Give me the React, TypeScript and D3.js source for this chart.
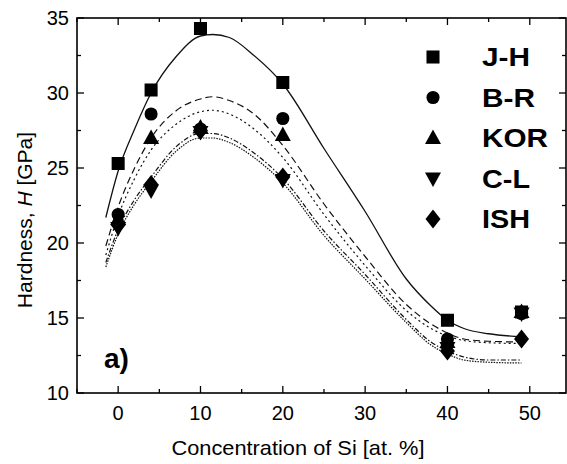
import React from "react";
import * as d3 from "d3";

const W = 567;
const H = 464;

const seriesNames = ["J-H", "B-R", "KOR", "C-L", "ISH"];
const dataX = [0, 4, 10, 20, 40, 49];
const jhH = [25.3, 30.2, 34.3, 30.7, 14.85, 15.4];
const brH = [21.9, 28.6, 27.6, 28.3, 13.6, 15.3];
const korH = [21.6, 27.0, 27.7, 27.2, 13.4, 15.4];
const clH = [21.0, 23.5, 27.4, 24.2, 13.0, 15.3];
const ishH = [21.2, 23.9, 27.5, 24.4, 12.8, 13.6];

const fitX = [-1.5, 0, 2, 4, 7, 10, 11.5, 13.5, 16.5, 20, 25, 30, 35, 38, 40, 42, 45, 49];
const fitJH = [21.7, 24.8, 27.6, 30.0, 32.4, 33.8, 33.9, 33.7, 32.5, 30.6, 26.3, 22.1, 17.6, 15.8, 14.85, 14.3, 13.95, 13.75];
const fitBR = [19.8, 22.4, 25.0, 27.0, 28.8, 29.6, 29.75, 29.5, 28.6, 26.5, 22.6, 19.1, 15.9, 14.6, 14.0, 13.6, 13.45, 13.4];
const fitKOR = [19.2, 21.8, 24.3, 26.2, 27.9, 28.75, 28.85, 28.6, 27.6, 25.7, 21.9, 18.5, 15.5, 14.3, 13.8, 13.5, 13.35, 13.3];
const fitCL = [18.7, 20.9, 22.9, 24.4, 26.4, 27.3, 27.3, 27.0, 26.0, 24.3, 20.8, 17.9, 14.9, 13.4, 12.8, 12.4, 12.2, 12.2];
const fitISH = [18.4, 20.6, 22.6, 24.1, 26.1, 27.0, 27.0, 26.7, 25.7, 24.0, 20.5, 17.6, 14.7, 13.2, 12.6, 12.2, 12.05, 12.0];

const xTicks = [0, 10, 20, 30, 40, 50];
const xMinor = [-5, 5, 15, 25, 35, 45];
const yTicks = [10, 15, 20, 25, 30, 35];
const yMinor = [12.5, 17.5, 22.5, 27.5, 32.5];

const xLabel = "Concentration of Si [at. %]";
const panelLabel = "a)";
const legendWidths = [48, 53, 66, 48, 48];

const left = 77, right = 566, top = 18, bottom = 393;
const x = d3.scaleLinear().domain([-5, 54.4]).range([left, right]);
const y = d3.scaleLinear().domain([10, 35]).range([bottom, top]);

type Shape = "square" | "circle" | "triangle" | "down" | "diamond";
const shapes: Shape[] = ["square", "circle", "triangle", "down", "diamond"];
const dataSets = [jhH, brH, korH, clH, ishH];
const fits = [fitJH, fitBR, fitKOR, fitCL, fitISH];
const dashes = ["none", "7,4", "2,3", "5,2,1.5,2", "1.5,1.2"];

function markerPath(shape: Shape): string {
  switch (shape) {
    case "square":
      return d3.symbol(d3.symbolSquare, 170)()!;
    case "circle":
      return d3.symbol(d3.symbolCircle, 135)()!;
    case "triangle":
      return "M0,-8.5L8,6L-8,6Z";
    case "down":
      return "M0,8.5L8,-6L-8,-6Z";
    case "diamond":
      return "M0,-9.5L7.5,0L0,9.5L-7.5,0Z";
  }
}

export default function App() {
  const line = d3
    .line<number>()
    .x((_, i) => x(fitX[i]))
    .y((v) => y(v))
    .curve(d3.curveMonotoneX);

  const font = "Arial, 'Liberation Sans', Helvetica, sans-serif";
  return (
    <svg
      width={W}
      height={H}
      style={{ position: "absolute", left: 0, top: 0, background: "#fff" }}
      fontFamily={font}
    >
      {fits.map((f, i) => (
        <path
          key={"fit" + i}
          d={line(f)!}
          fill="none"
          stroke="#111"
          strokeWidth={i === 0 ? 1.3 : 1.2}
          strokeDasharray={dashes[i] === "none" ? undefined : dashes[i]}
        />
      ))}
      {dataSets.map((ds, si) =>
        ds.map((v, j) => (
          <path
            key={"m" + si + "-" + j}
            d={markerPath(shapes[si])}
            transform={`translate(${x(dataX[j])},${y(v)})`}
            fill="#000"
          />
        ))
      )}
      <rect x={left} y={top} width={right - left} height={bottom - top} fill="none" stroke="#000" strokeWidth={1.6} />
      {xTicks.map((t) => (
        <g key={"xt" + t}>
          <line x1={x(t)} x2={x(t)} y1={bottom} y2={bottom - 7} stroke="#000" strokeWidth={1.3} />
          <line x1={x(t)} x2={x(t)} y1={top} y2={top + 7} stroke="#000" strokeWidth={1.3} />
          <text x={x(t)} y={420} textAnchor="middle" fontSize={20}>
            {t}
          </text>
        </g>
      ))}
      {xMinor.map((t) => (
        <g key={"xm" + t}>
          <line x1={x(t)} x2={x(t)} y1={bottom} y2={bottom - 4} stroke="#000" strokeWidth={1.3} />
          <line x1={x(t)} x2={x(t)} y1={top} y2={top + 4} stroke="#000" strokeWidth={1.3} />
        </g>
      ))}
      {yTicks.map((t) => (
        <g key={"yt" + t}>
          <line x1={left} x2={left + 7} y1={y(t)} y2={y(t)} stroke="#000" strokeWidth={1.3} />
          <line x1={right} x2={right - 7} y1={y(t)} y2={y(t)} stroke="#000" strokeWidth={1.3} />
          <text x={69} y={y(t) + 6.5} textAnchor="end" fontSize={20}>
            {t}
          </text>
        </g>
      ))}
      {yMinor.map((t) => (
        <g key={"ym" + t}>
          <line x1={left} x2={left + 4} y1={y(t)} y2={y(t)} stroke="#000" strokeWidth={1.3} />
          <line x1={right} x2={right - 4} y1={y(t)} y2={y(t)} stroke="#000" strokeWidth={1.3} />
        </g>
      ))}
      <text x={298} y={455} textAnchor="middle" fontSize={21} textLength={253} lengthAdjust="spacingAndGlyphs">
        {xLabel}
      </text>
      <text transform={`translate(32,220) rotate(-90)`} textAnchor="middle" fontSize={21}>
        Hardness, <tspan fontStyle="italic">H</tspan> [GPa]
      </text>
      <text x={104} y={368} fontSize={28} fontWeight="bold">
        {panelLabel}
      </text>
      {seriesNames.map((n, i) => (
        <g key={"lg" + i} transform={`translate(0,${57 + i * 40.5})`}>
          <path d={markerPath(shapes[i])} transform="translate(433,0)" fill="#000" />
          <text x={482} y={9} fontSize={26} fontWeight="bold" textLength={legendWidths[i]} lengthAdjust="spacingAndGlyphs">
            {n}
          </text>
        </g>
      ))}
    </svg>
  );
}
